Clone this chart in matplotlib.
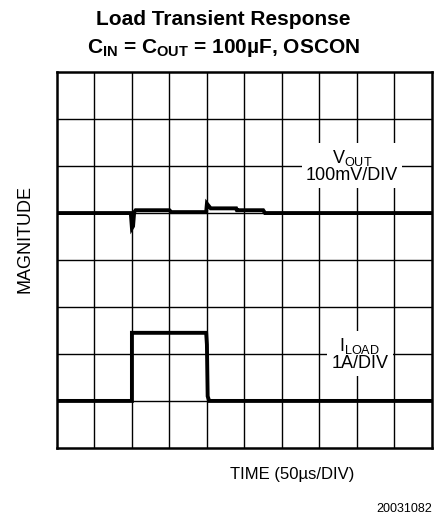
import numpy as np
import matplotlib
matplotlib.use("Agg")
import matplotlib.pyplot as plt

plt.rcParams['font.family'] = ['Liberation Sans', 'DejaVu Sans']
plt.rcParams['mathtext.fontset'] = 'custom'
plt.rcParams['mathtext.rm'] = 'Liberation Sans'
plt.rcParams['mathtext.it'] = 'Liberation Sans'
plt.rcParams['mathtext.bf'] = 'Liberation Sans:bold'
plt.rcParams['mathtext.default'] = 'regular'

# traces, in divisions (x: 0..10, y: 0..8)
vout_t = [0, 1.97, 2.0, 2.03, 2.06, 2.1, 2.2, 3.0, 3.05, 3.98, 4.0, 4.03, 4.1, 4.78, 4.8, 5.5, 5.55, 10]
vout_v = [5.0, 5.0, 4.68, 4.72, 5.02, 5.06, 5.06, 5.06, 5.02, 5.02, 5.2, 5.17, 5.1, 5.1, 5.06, 5.06, 5.0, 5.0]

iload_t = [0, 2.0, 2.0, 3.98, 4.0, 4.02, 4.06, 10]
iload_v = [1.0, 1.0, 2.45, 2.45, 2.2, 1.1, 1.0, 1.0]

n_xdiv = 10
n_ydiv = 8

fig = plt.figure(figsize=(4.38, 5.19), dpi=100)
ax = fig.add_axes([0.130, 0.137, 0.856, 0.724])

# scope graticule
for i in range(1, n_xdiv):
    ax.axvline(i, color='black', lw=1.0, zorder=1)
for j in range(1, n_ydiv):
    ax.axhline(j, color='black', lw=1.0, zorder=1)

ax.plot(vout_t, vout_v, color='black', lw=2.8, solid_joinstyle='miter', zorder=3)
ax.plot(iload_t, iload_v, color='black', lw=2.8, solid_joinstyle='miter', zorder=3)

ax.set_xlim(0, n_xdiv)
ax.set_ylim(0, n_ydiv)
ax.set_xticks([])
ax.set_yticks([])
for s in ax.spines.values():
    s.set_linewidth(1.8)

box = dict(facecolor='white', edgecolor='none', pad=3)
ax.text(7.87, 6.0, '$V_{OUT}$\n100mV/DIV', ha='center', va='center', fontsize=13,
        linespacing=0.9, bbox=box, zorder=2)
ax.text(8.08, 2.0, '$I_{LOAD}$\n1A/DIV', ha='center', va='center', fontsize=13,
        linespacing=0.9, bbox=box, zorder=2)

fig.text(0.51, 0.963, 'Load Transient Response', ha='center', va='center',
         fontsize=15, fontweight='bold')
fig.text(0.51, 0.908, 'C$_{IN}$ = C$_{OUT}$ = 100µF, OSCON', ha='center', va='center',
         fontsize=15, fontweight='bold')
fig.text(0.057, 0.54, 'MAGNITUDE', rotation=90, ha='center', va='center', fontsize=13)
fig.text(0.667, 0.085, 'TIME (50µs/DIV)', ha='center', va='center', fontsize=12)
fig.text(0.986, 0.02, '20031082', ha='right', va='center', fontsize=9)

fig.savefig('out.png', dpi=100)
